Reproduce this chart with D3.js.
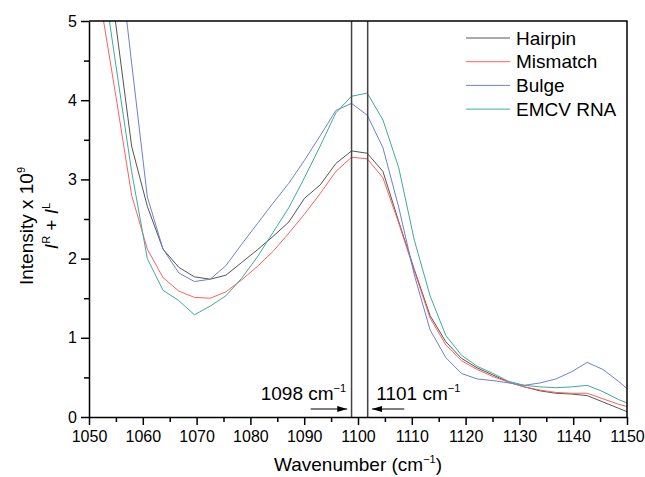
<!DOCTYPE html>
<html>
<head>
<meta charset="utf-8">
<script src="https://cdn.jsdelivr.net/npm/d3@7"></script>
<style>
  body { margin: 0; background: #fff; }
  svg { display: block; font-family: 'Liberation Sans', Arial, sans-serif; }
</style>
</head>
<body>
<svg id="chart" width="645" height="477"></svg>
<script>
// wavenumber grid (cm-1)
const wavenumbers = [1049.16, 1052.08, 1055.0, 1057.92, 1060.84, 1063.76, 1066.68, 1069.6, 1072.52, 1075.44,
  1078.36, 1081.28, 1084.2, 1087.12, 1090.04, 1092.96, 1095.88, 1098.8, 1101.72, 1104.64,
  1107.56, 1110.48, 1113.4, 1116.32, 1119.24, 1122.16, 1125.08, 1128.0, 1130.92, 1133.84,
  1136.76, 1139.68, 1142.6, 1145.52, 1148.44, 1151.36];

const hairpin = [7.9, 6.4, 4.95, 3.42, 2.66, 2.12, 1.89, 1.77, 1.74, 1.79,
  1.95, 2.11, 2.28, 2.46, 2.76, 2.93, 3.20, 3.36, 3.33, 3.10,
  2.47, 1.86, 1.28, 0.95, 0.74, 0.62, 0.53, 0.44, 0.38, 0.33,
  0.30, 0.29, 0.27, 0.19, 0.11, 0.03];

const mismatch = [6.5, 5.26, 4.05, 2.80, 2.12, 1.76, 1.59, 1.51, 1.50, 1.58,
  1.73, 1.90, 2.09, 2.32, 2.56, 2.82, 3.10, 3.28, 3.26, 3.02,
  2.45, 1.84, 1.25, 0.91, 0.71, 0.60, 0.51, 0.44, 0.38, 0.34,
  0.31, 0.30, 0.30, 0.23, 0.16, 0.11];

const bulge = [10, 8.5, 6.2, 4.47, 2.78, 2.12, 1.82, 1.71, 1.74, 1.91,
  2.18, 2.44, 2.70, 2.95, 3.24, 3.55, 3.87, 3.96, 3.81, 3.40,
  2.65, 1.79, 1.10, 0.75, 0.55, 0.48, 0.46, 0.43, 0.40, 0.43,
  0.48, 0.57, 0.69, 0.60, 0.45, 0.28];

const emcv = [7.4, 5.8, 4.44, 3.10, 2.00, 1.60, 1.47, 1.29, 1.40, 1.53,
  1.75, 2.02, 2.33, 2.64, 3.02, 3.42, 3.84, 4.05, 4.09, 3.75,
  3.15, 2.23, 1.53, 1.03, 0.78, 0.64, 0.55, 0.45, 0.40, 0.38,
  0.37, 0.38, 0.40, 0.32, 0.22, 0.14];

const seriesNames = ['Hairpin', 'Mismatch', 'Bulge', 'EMCV RNA'];
const seriesColors = ['#555555', '#ff5f5f', '#7080cf', '#40aa9c'];

const xMajorTicks = [1050, 1060, 1070, 1080, 1090, 1100, 1110, 1120, 1130, 1140, 1150];
const yMajorTicks = [0, 1, 2, 3, 4, 5];

// marked peak positions
const markers = [1098.8, 1101.8];

const series = [hairpin, mismatch, bulge, emcv].map((vals, i) => ({
  name: seriesNames[i],
  color: seriesColors[i],
  points: vals.map((v, j) => ({ x: wavenumbers[j], y: v }))
}));

const padding = { top: 21, right: 18, bottom: 60, left: 89 };
const svg = d3.select('#chart');
const width = +svg.attr('width') - padding.left - padding.right;
const height = +svg.attr('height') - padding.top - padding.bottom;

const x = d3.scaleLinear().domain([1050, 1150]).range([0, width]);
const y = d3.scaleLinear().domain([0, 5]).range([height, 0]);

const canvas = svg.append('g').attr('transform', `translate(${padding.left}, ${padding.top})`);

canvas.append('clipPath').attr('id', 'clip')
  .append('rect').attr('width', width).attr('height', height);

// curves
const line = d3.line().x(d => x(d.x)).y(d => y(d.y));
canvas.append('g').attr('clip-path', 'url(#clip)')
  .selectAll('path').data(series).join('path')
  .attr('d', d => line(d.points))
  .attr('fill', 'none')
  .attr('stroke', d => d.color)
  .attr('stroke-width', 1);

// vertical marker lines
canvas.selectAll('line.marker').data(markers).join('line')
  .attr('class', 'marker')
  .attr('x1', d => x(d)).attr('x2', d => x(d))
  .attr('y1', 0).attr('y2', height)
  .attr('stroke', '#444').attr('stroke-width', 1.5);

// axes: minor ticks first, then labelled major ticks
function styleAxis(g) {
  g.selectAll('path, line').attr('stroke', '#000').attr('stroke-width', 1.5);
  g.selectAll('text').attr('fill', '#000').attr('font-size', 16)
    .attr('font-family', "'Liberation Sans', Arial, sans-serif");
}

canvas.append('g').attr('transform', `translate(0, ${height})`)
  .call(d3.axisBottom(x).tickValues(d3.range(1055, 1150, 10)).tickSize(5).tickFormat(''))
  .call(g => g.select('.domain').remove())
  .call(styleAxis);
canvas.append('g').attr('transform', `translate(0, ${height})`)
  .call(d3.axisBottom(x).tickValues(xMajorTicks).tickSize(8).tickSizeOuter(0).tickPadding(6).tickFormat(d3.format('d')))
  .call(styleAxis);

canvas.append('g')
  .call(d3.axisLeft(y).tickValues(d3.range(0.5, 5, 1)).tickSize(5).tickFormat(''))
  .call(g => g.select('.domain').remove())
  .call(styleAxis);
canvas.append('g')
  .call(d3.axisLeft(y).tickValues(yMajorTicks).tickSize(8).tickSizeOuter(0).tickPadding(4).tickFormat(d3.format('d')))
  .call(styleAxis);

// top and right frame
canvas.append('path')
  .attr('d', `M0,0H${width}V${height}`)
  .attr('fill', 'none').attr('stroke', '#000').attr('stroke-width', 1.5);

// legend
const legend = canvas.append('g').attr('transform', `translate(${width - 161}, 17)`);
const rows = legend.selectAll('g').data(series).join('g')
  .attr('transform', (d, i) => `translate(0, ${i * 23.7})`);
rows.append('line').attr('x1', 0).attr('x2', 44)
  .attr('stroke', d => d.color).attr('stroke-width', 1);
rows.append('text').attr('x', 50).attr('dy', '0.35em')
  .attr('font-size', 19).text(d => d.name);

// label with a cm-1 superscript
function cmLabel(g, value, anchorX, baseY, anchor) {
  const t = g.append('text').attr('y', baseY).attr('font-size', 19).attr('text-anchor', anchor).attr('x', anchorX);
  t.append('tspan').text(value + ' cm');
  t.append('tspan').attr('font-size', 11).attr('dy', -8).text('\u22121');
  return t;
}

// annotations with arrows
const arrowY = 388;
svg.append('defs').append('marker')
  .attr('id', 'head').attr('viewBox', '0 0 10 6').attr('refX', 10).attr('refY', 3)
  .attr('markerWidth', 10).attr('markerHeight', 6).attr('markerUnits', 'userSpaceOnUse')
  .attr('orient', 'auto')
  .append('path').attr('d', 'M0,0L10,3L0,6Z').attr('fill', '#000');

canvas.append('line')
  .attr('x1', x(1091.2)).attr('x2', x(1098.0))
  .attr('y1', arrowY).attr('y2', arrowY)
  .attr('stroke', '#000').attr('stroke-width', 1).attr('marker-end', 'url(#head)');
canvas.append('line')
  .attr('x1', x(1108.6)).attr('x2', x(1102.6))
  .attr('y1', arrowY).attr('y2', arrowY)
  .attr('stroke', '#000').attr('stroke-width', 1).attr('marker-end', 'url(#head)');

cmLabel(canvas, '1098', x(1097.8), 379, 'end');
cmLabel(canvas, '1101', x(1103.4), 379, 'start');

// x axis title
const xt = svg.append('text')
  .attr('x', padding.left + width / 2).attr('y', 471)
  .attr('text-anchor', 'middle').attr('font-size', 19);
xt.append('tspan').text('Wavenumber (cm');
xt.append('tspan').attr('font-size', 11).attr('dy', -8).text('\u22121');
xt.append('tspan').attr('dy', 8).text(')');

// y axis title, two rotated lines
const yt = svg.append('g').attr('transform', 'translate(0, 226) rotate(-90)');
const line1 = yt.append('text').attr('x', 0).attr('y', 33).attr('text-anchor', 'middle').attr('font-size', 19);
line1.append('tspan').text('Intensity x 10');
line1.append('tspan').attr('font-size', 11).attr('dy', -8).text('9');

const line2 = yt.append('text').attr('x', 0).attr('y', 58).attr('text-anchor', 'middle').attr('font-size', 19);
line2.append('tspan').attr('font-style', 'italic').text('I');
line2.append('tspan').attr('font-size', 11).attr('dy', -8).text('R');
line2.append('tspan').attr('dy', 8).text(' + ');
line2.append('tspan').attr('font-style', 'italic').text('I');
line2.append('tspan').attr('font-size', 11).attr('dy', -8).text('L');
</script>
</body>
</html>
